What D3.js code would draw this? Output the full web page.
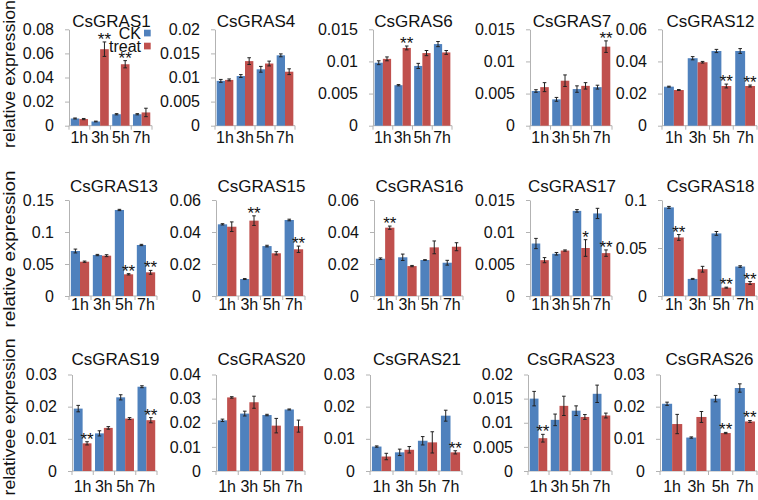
<!DOCTYPE html>
<html>
<head>
<meta charset="utf-8">
<script src="https://cdn.jsdelivr.net/npm/d3@7"></script>
<style>
  html, body { margin: 0; padding: 0; background: #fff; }
  svg { display: block; font-family: "Liberation Sans", Arial, sans-serif; }
</style>
</head>
<body>
<svg id="chart" width="758" height="500"></svg>
<script>
// ---------------- DATA ----------------
const genes = ["CsGRAS1","CsGRAS4","CsGRAS6","CsGRAS7","CsGRAS12",
               "CsGRAS13","CsGRAS15","CsGRAS16","CsGRAS17","CsGRAS18",
               "CsGRAS19","CsGRAS20","CsGRAS21","CsGRAS23","CsGRAS26"];
const times = ["1h","3h","5h","7h"];
const seriesNames = ["CK","treat"];
const rowLabels = ["relative expression","relative expression","relativee expression"];

const ckValues = [
  [0.006, 0.0035, 0.0095, 0.0095],
  [0.0093, 0.0103, 0.0117, 0.0146],
  [0.0098, 0.0063, 0.0093, 0.0127],
  [0.0054, 0.0041, 0.0057, 0.006],
  [0.0243, 0.042, 0.0465, 0.0465],
  [0.0703, 0.064, 0.1344, 0.0797],
  [0.0448, 0.0106, 0.0312, 0.0475],
  [0.0233, 0.0242, 0.0225, 0.0208],
  [0.0082, 0.0066, 0.0133, 0.0129],
  [0.0923, 0.0178, 0.0652, 0.0307],
  [0.0194, 0.0117, 0.0229, 0.0262],
  [0.021, 0.0238, 0.0232, 0.0255],
  [0.0076, 0.0058, 0.0094, 0.0172],
  [0.015, 0.0106, 0.0125, 0.016],
  [0.0209, 0.0104, 0.0225, 0.0258]
];
const treatValues = [
  [0.0055, 0.0635, 0.051, 0.011],
  [0.0095, 0.0134, 0.0129, 0.0112],
  [0.0104, 0.0121, 0.0113, 0.0114],
  [0.006, 0.007, 0.0062, 0.0123],
  [0.0222, 0.0395, 0.0247, 0.0247],
  [0.0536, 0.063, 0.0339, 0.037],
  [0.0433, 0.0471, 0.0267, 0.0292],
  [0.0427, 0.0187, 0.0304, 0.0308],
  [0.0056, 0.0071, 0.0075, 0.0067],
  [0.061, 0.0279, 0.0087, 0.0136],
  [0.0086, 0.0134, 0.0163, 0.0158],
  [0.0305, 0.0285, 0.0188, 0.0186],
  [0.0045, 0.0066, 0.0089, 0.0058],
  [0.0068, 0.0135, 0.0112, 0.0115],
  [0.0146, 0.0168, 0.0118, 0.0154]
];
const ckErrors = [
  [0.0004, 0.0003, 0.0005, 0.0005],
  [0.0003, 0.0003, 0.0006, 0.0003],
  [0.0003, 0.0001, 0.0004, 0.0004],
  [0.0002, 0.0003, 0.0005, 0.0003],
  [0.0003, 0.001, 0.001, 0.0015],
  [0.003, 0.001, 0.001, 0.001],
  [0.0004, 0.0003, 0.0005, 0.0005],
  [0.0005, 0.002, 0.0002, 0.0015],
  [0.0008, 0.0002, 0.0002, 0.0008],
  [0.001, 0.0005, 0.002, 0.0008],
  [0.001, 0.0008, 0.0008, 0.0003],
  [0.0005, 0.001, 0.0003, 0.0002],
  [0.0002, 0.001, 0.0013, 0.0017],
  [0.0015, 0.0012, 0.001, 0.0018],
  [0.0005, 0.0002, 0.001, 0.0013]
];
const treatErrors = [
  [0.0005, 0.006, 0.003, 0.0035],
  [0.0002, 0.0007, 0.0005, 0.0006],
  [0.0003, 0.0003, 0.0004, 0.0003],
  [0.0007, 0.0009, 0.0005, 0.0009],
  [0.0003, 0.0005, 0.0012, 0.0006],
  [0.001, 0.0015, 0.001, 0.003],
  [0.003, 0.003, 0.001, 0.002],
  [0.001, 0.0004, 0.004, 0.0025],
  [0.0004, 0.0001, 0.0013, 0.0005],
  [0.003, 0.003, 0.0005, 0.0015],
  [0.0005, 0.0004, 0.0003, 0.0008],
  [0.0003, 0.0025, 0.003, 0.0025],
  [0.001, 0.001, 0.0033, 0.0005],
  [0.0008, 0.002, 0.0005, 0.0005],
  [0.003, 0.0017, 0.0002, 0.0003]
];
const treatStars = [
  ["", "**", "**", ""],
  ["", "", "", ""],
  ["", "**", "", ""],
  ["", "", "", "**"],
  ["", "", "**", "**"],
  ["", "", "**", "**"],
  ["", "**", "", "**"],
  ["**", "", "", ""],
  ["", "", "*", "**"],
  ["**", "", "**", "**"],
  ["**", "", "", "**"],
  ["", "", "", ""],
  ["", "", "", "**"],
  ["**", "", "", ""],
  ["", "", "**", "**"]
];
const yTicks = [
  [0, 0.02, 0.04, 0.06, 0.08],
  [0, 0.005, 0.01, 0.015, 0.02],
  [0, 0.005, 0.01, 0.015],
  [0, 0.005, 0.01, 0.015],
  [0, 0.02, 0.04, 0.06],
  [0, 0.05, 0.1, 0.15],
  [0, 0.02, 0.04, 0.06],
  [0, 0.02, 0.04, 0.06],
  [0, 0.005, 0.01, 0.015],
  [0, 0.05, 0.1],
  [0, 0.01, 0.02, 0.03],
  [0, 0.01, 0.02, 0.03, 0.04],
  [0, 0.01, 0.02, 0.03],
  [0, 0.005, 0.01, 0.015, 0.02],
  [0, 0.01, 0.02, 0.03]
];

// ---------------- LAYOUT ----------------
const colors = { CK: "#4f81bd", treat: "#c0504d" };
const rows = [
  { top: 29.3, base: 125.7, catY: 137, titleY: 21, labelY: 74, labelLen: 148 },
  { top: 200, base: 296, catY: 304, titleY: 186, labelY: 249, labelLen: 157 },
  { top: 374.5, base: 471, catY: 486, titleY: 359, labelY: 417, labelLen: 157 }
];
const panelX = [
  [69, 152], [215, 295], [373, 452], [530, 612], [662, 757],
  [69, 157], [216, 305], [374, 463], [530, 612], [662, 757],
  [72, 157], [216, 305], [370, 462], [528, 612], [660, 757]
];

const svg = d3.select("#chart");
const axisColor = "#b3b3b3";

rows.forEach((r, i) => {
  svg.append("text")
    .attr("transform", `translate(9,${r.labelY}) rotate(-90)`)
    .attr("text-anchor", "middle")
    .attr("dominant-baseline", "central")
    .attr("font-size", 17)
    .attr("textLength", r.labelLen)
    .attr("lengthAdjust", "spacingAndGlyphs")
    .attr("fill", "#111")
    .text(rowLabels[i]);
});

genes.forEach((gene, gi) => {
  const row = rows[Math.floor(gi / 5)];
  const [x0, x1] = panelX[gi];
  const ticks = yTicks[gi];
  const g = svg.append("g");

  const x = d3.scaleBand().domain(times).range([x0, x1]).padding(0);
  const xs = d3.scaleBand().domain(seriesNames).range([0, x.bandwidth()])
               .paddingInner(0).paddingOuter(0.2);
  const y = d3.scaleLinear().domain([0, d3.max(ticks)]).range([row.base, row.top]);

  // y axis
  const yAxis = d3.axisLeft(y).tickValues(ticks).tickSize(4).tickSizeOuter(0)
                  .tickPadding(11).tickFormat(d => String(d));
  const ya = g.append("g").attr("transform", `translate(${x0},0)`).call(yAxis);
  ya.select(".domain").attr("stroke", axisColor);
  ya.selectAll(".tick line").attr("stroke", axisColor);
  ya.selectAll(".tick text").attr("font-size", 16).attr("fill", "#111")
    .attr("font-family", "Liberation Sans, Arial, sans-serif");

  // x axis baseline + boundary ticks
  g.append("line").attr("x1", x0).attr("x2", x1)
    .attr("y1", y(0)).attr("y2", y(0)).attr("stroke", axisColor);
  const bounds = times.map(t => x(t)).concat([x(times[times.length - 1]) + x.bandwidth()]);
  g.selectAll(".xb").data(bounds).enter().append("line")
    .attr("x1", d => d).attr("x2", d => d)
    .attr("y1", y(0)).attr("y2", y(0) + 4).attr("stroke", axisColor);
  g.selectAll(".xl").data(times).enter().append("text")
    .attr("x", d => x(d) + x.bandwidth() / 2)
    .attr("y", row.catY)
    .attr("text-anchor", "middle").attr("dominant-baseline", "central")
    .attr("font-size", 16).attr("fill", "#111")
    .text(d => d);

  // bars
  const series = [
    { name: "CK", vals: ckValues[gi], errs: ckErrors[gi] },
    { name: "treat", vals: treatValues[gi], errs: treatErrors[gi] }
  ];
  series.forEach(s => {
    const bars = times.map((t, ti) => ({ t, v: s.vals[ti], e: s.errs[ti] }));
    g.selectAll(".bar-" + s.name).data(bars).enter().append("rect")
      .attr("x", d => x(d.t) + xs(s.name))
      .attr("width", xs.bandwidth())
      .attr("y", d => y(d.v))
      .attr("height", d => y(0) - y(d.v))
      .attr("fill", colors[s.name]);
    // error bars
    const eg = g.selectAll(".err-" + s.name).data(bars).enter().append("g");
    const cx = d => x(d.t) + xs(s.name) + xs.bandwidth() / 2;
    eg.append("line").attr("x1", cx).attr("x2", cx)
      .attr("y1", d => y(d.v - d.e)).attr("y2", d => y(d.v + d.e))
      .attr("stroke", "#222").attr("stroke-width", 1);
    eg.append("line").attr("x1", d => cx(d) - 1.8).attr("x2", d => cx(d) + 1.8)
      .attr("y1", d => y(d.v + d.e)).attr("y2", d => y(d.v + d.e))
      .attr("stroke", "#222").attr("stroke-width", 1);
    eg.append("line").attr("x1", d => cx(d) - 1.8).attr("x2", d => cx(d) + 1.8)
      .attr("y1", d => y(d.v - d.e)).attr("y2", d => y(d.v - d.e))
      .attr("stroke", "#222").attr("stroke-width", 1);
  });

  // significance stars
  const starData = times.map((t, ti) => ({ t, s: treatStars[gi][ti],
      top: treatValues[gi][ti] + treatErrors[gi][ti] })).filter(d => d.s);
  g.selectAll(".star").data(starData).enter().append("text")
    .attr("x", d => x(d.t) + xs("treat") + xs.bandwidth() / 2)
    .attr("y", d => y(d.top) + 3)
    .attr("text-anchor", "middle")
    .attr("font-size", 17).attr("fill", "#111")
    .text(d => d.s);

  // title
  g.append("text")
    .attr("x", (x0 + x1) / 2 + 1).attr("y", row.titleY)
    .attr("text-anchor", "middle").attr("dominant-baseline", "central")
    .attr("font-size", 17).attr("fill", "#111")
    .text(gene);

  // legend (first panel only)
  if (gi === 0) {
    const lg = g.append("g");
    const legY = [33, 46];
    seriesNames.forEach((n, k) => {
      lg.append("rect").attr("x", x1 - 8).attr("y", legY[k] - 3.3)
        .attr("width", 6.7).attr("height", 6.7).attr("fill", colors[n]);
      lg.append("text").attr("x", x1 - 11).attr("y", legY[k])
        .attr("text-anchor", "end").attr("dominant-baseline", "central")
        .attr("font-size", 16).attr("fill", "#111").text(n);
    });
  }
});
</script>
</body>
</html>
